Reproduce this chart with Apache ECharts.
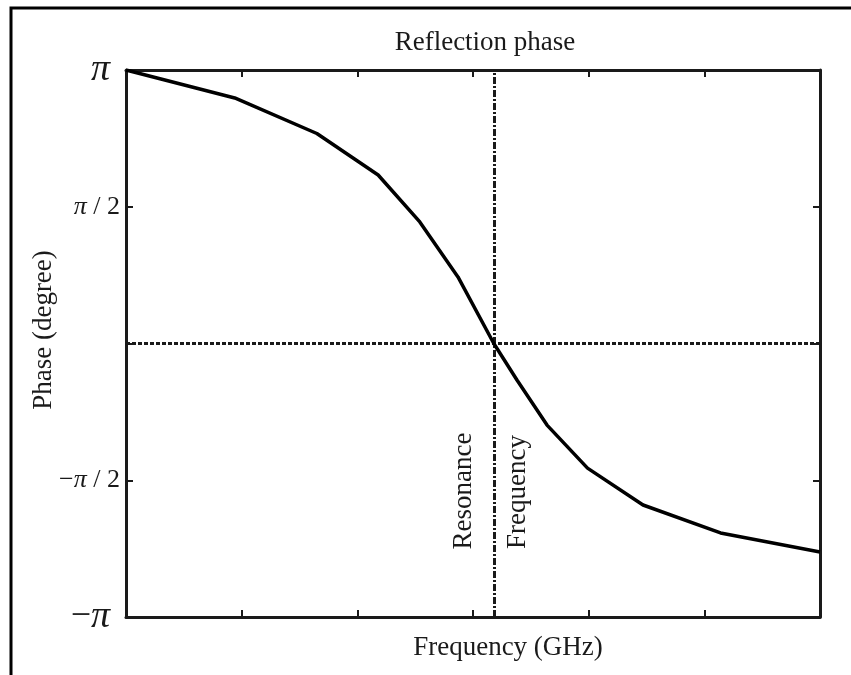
<!DOCTYPE html>
<html>
<head>
<meta charset="utf-8">
<script src="https://cdn.jsdelivr.net/npm/echarts@6/dist/echarts.min.js"></script>
<style>
  html, body { margin: 0; padding: 0; background: #fff; }
  #main { width: 851px; height: 675px; }
</style>
</head>
<body>
<div id="main"></div>
<script>
// frequency (arbitrary units, 6 tick intervals) and phase (degrees)
var freq  = [0, 0.94, 1.65, 2.18, 2.54, 2.87, 3.18, 3.38, 3.64, 3.99, 4.47, 5.14, 6.0];
var phase = [180, 161.6, 138.2, 110.9, 80, 43.8, 0, -24, -53.7, -82, -106.3, -124.7, -137.2];
var resonance = 3.18;
var yTicks = [-180, -90, 0, 90, 180];

var serif = '"Liberation Serif", "DejaVu Serif", serif';
var ink = '#1a1a1a';

var chart = echarts.init(document.getElementById('main'));

function yLabel(v) {
  if (v === 180) return '{big|π}';
  if (v === 90) return '{pi|π}{n| / 2}';
  if (v === -90) return '{n|−}{pi|π}{n| / 2}';
  if (v === -180) return '{bigm|−}{big|π}';
  return '';
}

var axisLine = { show: true, onZero: false, lineStyle: { color: ink, width: 3 } };
var tick = { show: true, inside: true, length: 7, lineStyle: { color: ink, width: 2 } };

var option = {
  backgroundColor: '#fff',
  animation: false,
  grid: { left: 126, top: 70, right: 31, bottom: 58 },
  xAxis: [{
    type: 'value', min: 0, max: 6, interval: 1,
    axisLine: axisLine, axisTick: tick,
    axisLabel: { show: false }, splitLine: { show: false }
  }, {
    type: 'value', position: 'top', min: 0, max: 6, interval: 1,
    axisLine: axisLine, axisTick: tick,
    axisLabel: { show: false }, splitLine: { show: false }
  }],
  yAxis: [{
    type: 'value', min: yTicks[0], max: yTicks[yTicks.length - 1], interval: 90,
    axisLine: axisLine, axisTick: tick, splitLine: { show: false },
    axisLabel: {
      margin: 6,
      formatter: yLabel,
      rich: {
        big: { fontFamily: serif, fontStyle: 'italic', fontSize: 38, color: ink, padding: [0, 10, 0, 0] },
        bigm: { fontFamily: serif, fontSize: 36, color: ink },
        pi: { fontFamily: serif, fontStyle: 'italic', fontSize: 26, color: ink },
        n: { fontFamily: serif, fontSize: 26, color: ink }
      }
    }
  }, {
    type: 'value', position: 'right', min: -180, max: 180, interval: 90,
    axisLine: axisLine, axisTick: tick,
    axisLabel: { show: false }, splitLine: { show: false }
  }],
  graphic: [
    { type: 'rect', shape: { x: 11, y: 8, width: 860, height: 700 },
      style: { fill: null, stroke: '#000', lineWidth: 3 }, silent: true },
    { type: 'text', x: 485, y: 43, style: {
        text: 'Reflection phase', font: '27px ' + serif, fill: ink,
        align: 'center', verticalAlign: 'middle' } },
    { type: 'text', x: 508, y: 648, style: {
        text: 'Frequency (GHz)', font: '27px ' + serif, fill: ink,
        align: 'center', verticalAlign: 'middle' } },
    { type: 'text', x: 44, y: 330, rotation: Math.PI / 2, style: {
        text: 'Phase (degree)', font: '27px ' + serif, fill: ink,
        align: 'center', verticalAlign: 'middle' } },
    { type: 'text', x: 464, y: 491, rotation: Math.PI / 2, style: {
        text: 'Resonance', font: '27px ' + serif, fill: ink,
        align: 'center', verticalAlign: 'middle' } },
    { type: 'text', x: 518, y: 492, rotation: Math.PI / 2, style: {
        text: 'Frequency', font: '27px ' + serif, fill: ink,
        align: 'center', verticalAlign: 'middle' } }
  ],
  series: [{
    type: 'line',
    data: freq.map(function (f, i) { return [f, phase[i]]; }),
    showSymbol: false,
    lineStyle: { color: '#000', width: 3.5 },
    z: 5,
    markLine: {
      silent: true,
      symbol: ['none', 'none'],
      label: { show: false },
      data: [
        { yAxis: 0, lineStyle: { color: ink, width: 3, type: [4, 2] } },
        { xAxis: resonance, lineStyle: { color: ink, width: 3, type: [7, 2, 2, 2] } }
      ]
    }
  }]
};

chart.setOption(option);
</script>
</body>
</html>
